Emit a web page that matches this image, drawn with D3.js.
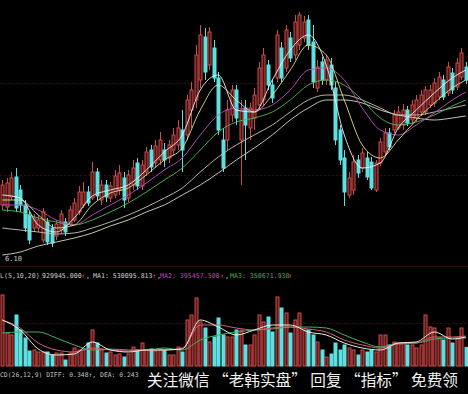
<!DOCTYPE html>
<html><head><meta charset="utf-8">
<script src="https://cdn.jsdelivr.net/npm/d3@7/dist/d3.min.js"></script>
<style>html,body{margin:0;padding:0;background:#000;overflow:hidden}</style>
</head><body>
<svg id="c" width="468" height="394"></svg>
<script>
// ---- data (prices in yuan, volume in 万手) ----
const open  = [6.52,6.50,6.60,6.80,6.67,6.52,6.42,6.29,6.29,6.17,6.35,6.29,6.21,6.27,6.35,6.33,6.37,6.45,6.52,6.65,6.59,6.85,6.57,6.72,6.59,6.62,6.67,6.79,6.59,6.72,6.94,6.71,6.85,7.07,6.94,6.97,7.07,6.99,7.07,7.12,7.27,7.22,7.47,7.57,7.77,8.20,7.92,8.09,7.79,7.17,7.17,7.42,7.67,7.17,7.49,7.29,7.39,7.52,7.57,7.92,7.72,7.79,8.09,7.89,8.19,8.02,8.12,8.19,8.37,8.15,7.69,7.95,7.77,7.92,7.69,7.27,6.99,6.62,6.67,6.97,6.89,6.99,6.95,6.67,6.94,7.05,7.24,7.27,7.29,7.32,7.47,7.37,7.39,7.45,7.45,7.52,7.54,7.60,7.77,7.64,7.84,7.70,7.80,7.90];
const high  = [6.77,6.79,6.85,6.89,6.72,6.57,6.45,6.43,6.42,6.49,6.39,6.33,6.37,6.47,6.39,6.51,6.59,6.71,6.75,6.71,6.95,6.89,6.77,6.77,6.75,6.87,6.92,6.85,6.87,6.97,6.99,6.97,7.10,7.12,7.17,7.25,7.14,7.17,7.29,7.37,7.47,7.62,7.75,8.12,8.32,8.29,8.30,8.17,7.85,7.29,7.57,7.72,7.72,7.57,7.57,7.54,7.69,7.95,8.09,7.97,7.77,8.27,8.15,8.32,8.25,8.42,8.45,8.41,8.42,8.32,7.97,8.00,8.02,7.99,7.75,7.32,7.07,6.85,7.02,7.02,7.09,7.05,7.00,6.97,7.19,7.29,7.29,7.47,7.51,7.53,7.51,7.57,7.62,7.67,7.71,7.72,7.79,7.85,7.82,7.95,7.89,7.99,8.09,7.95];
const low   = [6.47,6.45,6.57,6.45,6.45,6.25,6.13,6.25,6.25,6.14,6.12,6.10,6.17,6.23,6.21,6.31,6.35,6.42,6.49,6.51,6.57,6.57,6.52,6.55,6.55,6.59,6.62,6.49,6.55,6.67,6.67,6.67,6.81,6.85,6.89,6.92,6.90,6.94,7.02,7.07,6.85,7.17,7.29,7.49,7.69,7.77,7.87,7.75,7.22,6.85,7.07,7.35,7.32,6.72,6.97,7.17,7.27,7.47,7.52,7.67,7.54,7.75,7.75,7.85,7.95,7.97,8.07,8.15,8.07,7.69,7.65,7.72,7.72,7.67,7.12,6.92,6.51,6.59,6.62,6.79,6.85,6.77,6.67,6.65,6.91,7.01,7.07,7.24,7.27,7.27,7.31,7.33,7.35,7.41,7.42,7.49,7.50,7.57,7.57,7.61,7.63,7.67,7.77,7.73];
const close = [6.72,6.74,6.79,6.49,6.52,6.29,6.17,6.39,6.37,6.45,6.15,6.14,6.33,6.43,6.25,6.47,6.54,6.65,6.65,6.54,6.85,6.61,6.72,6.60,6.71,6.81,6.84,6.57,6.82,6.89,6.71,6.92,7.05,6.90,7.11,7.17,6.97,7.12,7.22,7.29,7.07,7.57,7.67,8.02,8.22,7.85,8.25,7.79,7.27,6.89,7.47,7.67,7.39,7.47,7.32,7.49,7.62,7.89,8.02,7.72,7.59,8.22,7.79,8.27,7.99,8.35,8.42,8.35,8.12,7.75,7.90,7.77,7.97,7.72,7.17,6.97,6.65,6.79,6.95,6.84,7.04,6.80,6.69,6.94,7.15,7.24,7.10,7.42,7.45,7.47,7.34,7.52,7.57,7.62,7.67,7.67,7.74,7.80,7.60,7.90,7.67,7.94,8.04,7.77];
const volume = [355,165,155,255,180,140,75,80,70,70,70,55,65,65,30,65,90,80,80,115,180,115,80,65,70,55,60,45,60,95,80,115,80,85,75,85,80,55,55,95,70,230,255,340,220,190,120,145,240,155,145,145,180,180,105,105,155,255,220,245,170,345,290,265,165,230,265,180,180,155,120,80,45,60,115,80,105,90,80,55,80,70,80,70,155,155,105,120,115,115,105,105,90,105,255,195,190,140,130,190,115,140,190,93];

// moving-average lines, one value every 4 sessions
const maIndex = [0,4,8,12,16,20,24,28,32,36,40,44,48,52,56,60,64,68,72,76,80,84,88,92,96,100,103];
const ma5   = [6.62,6.59,6.32,6.25,6.39,6.61,6.67,6.72,6.87,7.05,7.22,7.67,7.82,7.47,7.45,7.77,8.07,8.22,7.92,7.22,6.89,6.94,7.29,7.47,7.64,7.79,7.87];
const ma10  = [6.57,6.57,6.42,6.29,6.32,6.52,6.64,6.69,6.82,6.97,7.09,7.47,7.72,7.57,7.45,7.62,7.87,8.12,8.02,7.57,7.12,6.99,7.17,7.37,7.54,7.69,7.77];
const ma20  = [6.52,6.52,6.47,6.37,6.32,6.42,6.52,6.62,6.74,6.87,6.99,7.22,7.42,7.49,7.47,7.52,7.67,7.87,7.89,7.77,7.49,7.27,7.22,7.32,7.44,7.57,7.65];
const ma30  = [6.47,6.45,6.39,6.35,6.32,6.37,6.45,6.54,6.65,6.77,6.89,7.07,7.25,7.35,7.39,7.45,7.57,7.72,7.77,7.72,7.57,7.39,7.32,7.35,7.42,7.51,7.57];
const ma60  = [6.29,6.27,6.25,6.23,6.24,6.29,6.35,6.42,6.50,6.59,6.69,6.85,7.00,7.12,7.22,7.32,7.45,7.57,7.62,7.62,7.57,7.49,7.42,7.42,7.45,7.49,7.52];
const ma120 = [6.02,6.05,6.11,6.15,6.19,6.24,6.31,6.37,6.45,6.52,6.62,6.72,6.84,6.97,7.09,7.22,7.37,7.49,7.57,7.57,7.54,7.47,7.42,7.39,7.37,7.39,7.41];
const volMa1 = [230,180,85,55,60,120,80,70,80,80,85,230,195,155,180,205,205,170,155,115,90,80,115,120,170,135,145];
const volMa2 = [230,190,115,80,70,90,80,75,80,80,90,205,205,190,180,190,195,185,170,130,105,90,110,115,145,145,150];
const volMa3 = [165,170,170,140,105,80,85,80,80,90,80,130,155,170,180,185,195,195,190,155,120,95,115,115,135,140,140];

const lowLabel = "6.10";
const volHeader = [
  {t:"L(5,10,20)", c:"#c8c8c8", x:0},
  {t:"929945.000", c:"#d0d0d0", x:42}, {t:"↑", c:"#ff4040", x:81}, {t:",", c:"#c8c8c8", x:86},
  {t:"MA1: 530095.813", c:"#d0d0d0", x:93}, {t:"↑", c:"#ff4040", x:152}, {t:",", c:"#c8c8c8", x:157},
  {t:"MA2: 395457.500", c:"#c040c0", x:160}, {t:"↑", c:"#ff4040", x:220}, {t:",", c:"#c8c8c8", x:225},
  {t:"MA3: 350671.938", c:"#40b040", x:230}, {t:"↑", c:"#ff4040", x:288}
];
const macdHeader = "CD(26,12,9)  DIFF: 0.348↑, DEA: 0.243";
const watermark = "关注微信 “老韩实盘” 回复 “指标” 免费领";
const gridPrices = [7.74, 6.82];
const gridVols = [215];

// ---- drawing ----
const W = 468, H = 394, n = close.length;
const svg = d3.select("#c");
svg.append("rect").attr("width", W).attr("height", H).attr("fill", "#000");

const x = d3.scaleLinear().domain([-0.5, n - 0.5]).range([0, W]);
const yP = d3.scaleLinear().domain([5.95, 8.57]).range([262, 0]);
const yV = d3.scaleLinear().domain([0, 375]).range([366, 291]);

const UP_STROKE = "#d04a4a", UP_FILL = "#4a1414", DN = "#5ee0e0";

// grid lines
svg.selectAll(".gp").data(gridPrices).join("line")
  .attr("x1", 0).attr("x2", W).attr("y1", d => Math.round(yP(d)) + 0.5).attr("y2", d => Math.round(yP(d)) + 0.5)
  .attr("stroke", "#3c0c0c").attr("stroke-dasharray", "2,2");
svg.selectAll(".gv").data(gridVols).join("line")
  .attr("x1", 0).attr("x2", W).attr("y1", d => Math.round(yV(d)) + 0.5).attr("y2", d => Math.round(yV(d)) + 0.5)
  .attr("stroke", "#3c0c0c").attr("stroke-dasharray", "2,2");
svg.append("line").attr("x1", 0).attr("x2", W).attr("y1", 266.5).attr("y2", 266.5).attr("stroke", "#2a0808");

// candles
const idx = d3.range(n);
const isUp = i => close[i] >= open[i];
const cg = svg.append("g");
cg.selectAll(".wick").data(idx).join("line")
  .attr("x1", i => Math.round(x(i)) + 0.5).attr("x2", i => Math.round(x(i)) + 0.5)
  .attr("y1", i => yP(high[i])).attr("y2", i => yP(low[i]))
  .attr("stroke", i => isUp(i) ? UP_STROKE : DN).attr("stroke-width", 1);
cg.selectAll(".body").data(idx).join("rect")
  .attr("x", i => Math.round(x(i)) - 1)
  .attr("width", 3)
  .attr("y", i => yP(Math.max(open[i], close[i])))
  .attr("height", i => Math.max(1, Math.abs(yP(open[i]) - yP(close[i]))))
  .attr("fill", i => isUp(i) ? UP_FILL : DN)
  .attr("stroke", i => isUp(i) ? UP_STROKE : DN).attr("stroke-width", 1);

// MA lines
const maLine = (arr, ys) => d3.line().x((d, k) => x(maIndex[k])).y(d => ys(d)).curve(d3.curveMonotoneX)(arr);
[[ma120, "#d8d8c8"], [ma60, "#c8c8b8"], [ma30, "#58b858"], [ma20, "#c050c0"], [ma10, "#e6e090"], [ma5, "#f0f0f0"]]
  .forEach(([a, c]) => svg.append("path").attr("d", maLine(a, yP)).attr("fill", "none").attr("stroke", c).attr("stroke-width", 1).attr("opacity", 0.9));

// low label
const lowI = d3.minIndex(low);
svg.append("text").attr("x", 5).attr("y", 261).attr("fill", "#c8c8c8")
  .attr("font-family", "DejaVu Sans Mono").attr("font-size", 7).text(lowLabel);

// volume header
svg.selectAll(".vh").data(volHeader).join("text")
  .attr("x", d => d.x).attr("y", 278).attr("fill", d => d.c)
  .attr("font-family", "DejaVu Sans Mono").attr("font-size", 6.6).text(d => d.t);

// volume bars
const vg = svg.append("g");
vg.selectAll(".vb").data(idx).join("rect")
  .attr("x", i => Math.round(x(i)) - 1).attr("width", 3)
  .attr("y", i => yV(volume[i])).attr("height", i => yV(0) - yV(volume[i]))
  .attr("fill", i => isUp(i) ? "#5a1818" : DN)
  .attr("stroke", i => isUp(i) ? UP_STROKE : DN).attr("stroke-width", 1);

[[volMa3, "#50b050"], [volMa2, "#d06080"], [volMa1, "#f0f0e0"]]
  .forEach(([a, c]) => svg.append("path").attr("d", maLine(a, yV)).attr("fill", "none").attr("stroke", c).attr("stroke-width", 1));

// MACD header and watermark
svg.append("text").attr("x", 0).attr("y", 377).attr("fill", "#c0c0c0")
  .attr("font-family", "DejaVu Sans Mono").attr("font-size", 6.4).text(macdHeader);
svg.append("text").attr("x", 147).attr("y", 386).attr("fill", "#f2f2f2")
  .attr("font-family", "Noto Sans CJK SC").attr("font-size", 16)
  .attr("textLength", 311).attr("lengthAdjust", "spacingAndGlyphs").text(watermark);
</script>
</body></html>
